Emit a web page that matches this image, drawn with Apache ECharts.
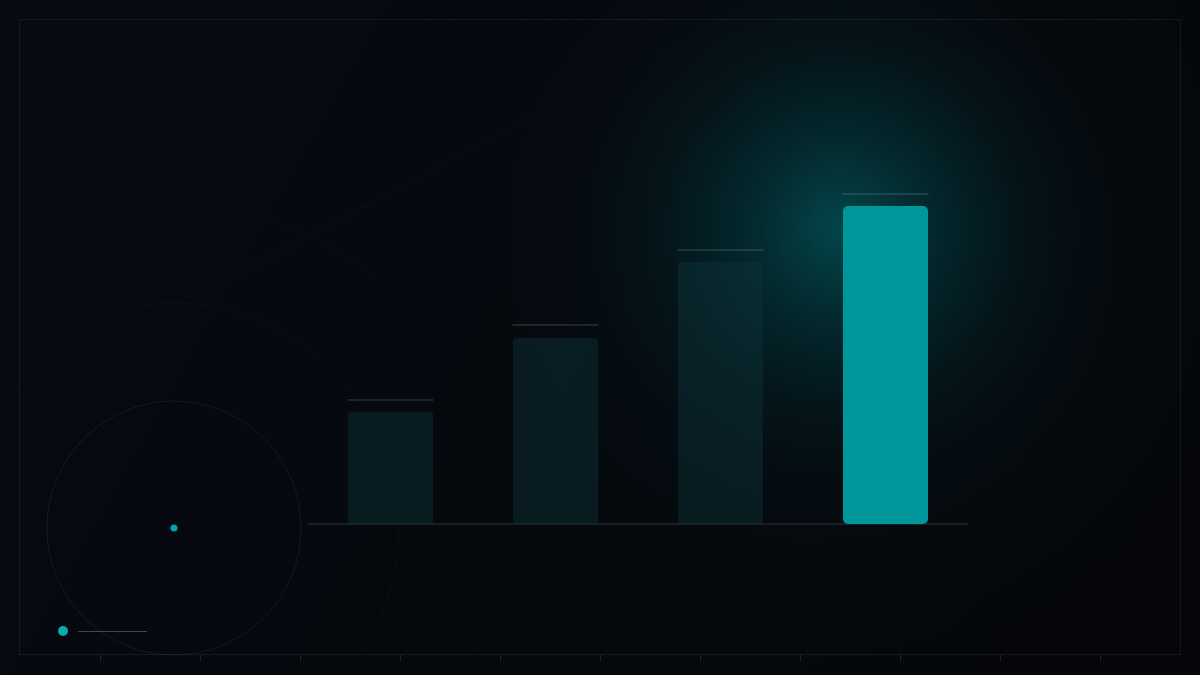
<!DOCTYPE html>
<html>
<head>
<meta charset="utf-8">
<script src="https://cdn.jsdelivr.net/npm/echarts@6/dist/echarts.min.js"></script>
<style>
html,body{margin:0;padding:0;background:#05070b;}
#chart{width:1200px;height:675px;}
</style>
</head>
<body>
<div id="chart"></div>
<script>
var categories = ['A', 'B', 'C', 'D'];
var values = [35.2, 58.5, 82.4, 100];
var caps = [39, 62.6, 86.2, 103.8];
var highlightIndex = 3;

var chart = echarts.init(document.getElementById('chart'));

var graphics = [];
graphics.push({
  type: 'rect', z: -10, silent: true,
  shape: {x: 0, y: 0, width: 1200, height: 675},
  style: {fill: new echarts.graphic.LinearGradient(0, 0, 1, 1, [
    {offset: 0, color: '#070b12'},
    {offset: 0.5, color: '#05080d'},
    {offset: 1, color: '#04060a'}
  ])}
});
graphics.push({
  type: 'rect', z: -9, silent: true,
  shape: {x: 0, y: 0, width: 1200, height: 675},
  style: {fill: new echarts.graphic.RadialGradient(0.7, 0.38, 0.6, [
    {offset: 0, color: 'rgba(0,90,95,0.2)'},
    {offset: 1, color: 'rgba(0,40,45,0)'}
  ])}
});
graphics.push({
  type: 'circle', z: -8, silent: true,
  shape: {cx: 840, cy: 225, r: 260},
  style: {fill: new echarts.graphic.RadialGradient(0.5, 0.5, 0.5, [
    {offset: 0, color: 'rgba(0,135,140,0.42)'},
    {offset: 0.35, color: 'rgba(0,110,115,0.24)'},
    {offset: 0.7, color: 'rgba(0,90,95,0.08)'},
    {offset: 1, color: 'rgba(0,80,85,0)'}
  ])}
});
for (var gx = 40; gx < 1200; gx += 41) {
  graphics.push({type: 'line', z: -7, silent: true, shape: {x1: gx, y1: 19, x2: gx, y2: 655},
    style: {stroke: 'rgba(255,255,255,0.012)', lineWidth: 1}});
}
for (var gy = 45; gy < 655; gy += 44) {
  graphics.push({type: 'line', z: -7, silent: true, shape: {x1: 19, y1: gy, x2: 1181, y2: gy},
    style: {stroke: 'rgba(255,255,255,0.012)', lineWidth: 1}});
}
graphics.push({type: 'line', z: -6, silent: true, shape: {x1: 0, y1: 395, x2: 760, y2: 0},
  style: {stroke: 'rgba(255,255,255,0.025)', lineWidth: 1}});
graphics.push({type: 'line', z: -6, silent: true, shape: {x1: 140, y1: 330, x2: 560, y2: 100},
  style: {stroke: 'rgba(255,255,255,0.02)', lineWidth: 1}});
graphics.push({type: 'rect', z: -5, silent: true, shape: {x: 19.5, y: 19.5, width: 1161, height: 635},
  style: {fill: 'none', stroke: 'rgba(255,255,255,0.065)', lineWidth: 1}});
for (var tx = 100; tx <= 1100; tx += 100) {
  graphics.push({type: 'line', z: -5, silent: true, shape: {x1: tx + 0.5, y1: 655, x2: tx + 0.5, y2: 661},
    style: {stroke: 'rgba(255,255,255,0.12)', lineWidth: 1}});
}
graphics.push({type: 'circle', z: -4, silent: true, shape: {cx: 174, cy: 528, r: 127},
  style: {fill: 'none', stroke: 'rgba(0,150,150,0.16)', lineWidth: 1}});
graphics.push({type: 'circle', z: -4, silent: true, shape: {cx: 174, cy: 528, r: 225},
  style: {fill: 'none', stroke: 'rgba(255,255,255,0.022)', lineWidth: 1}});
graphics.push({type: 'circle', z: -4, silent: true, shape: {cx: 174, cy: 528, r: 322},
  style: {fill: 'none', stroke: 'rgba(255,255,255,0.018)', lineWidth: 1}});
graphics.push({type: 'circle', z: 5, silent: true, shape: {cx: 174, cy: 528, r: 3.5},
  style: {fill: '#0aa3a6'}});
graphics.push({type: 'circle', z: 5, silent: true, shape: {cx: 63, cy: 631, r: 5},
  style: {fill: '#0aa9ac'}});
graphics.push({type: 'line', z: 5, silent: true, shape: {x1: 78, y1: 631.5, x2: 147, y2: 631.5},
  style: {stroke: 'rgba(255,255,255,0.25)', lineWidth: 1}});

var barData = values.map(function (v, i) {
  if (i === highlightIndex) {
    return {value: v, itemStyle: {color: '#00979a', borderRadius: 5}};
  }
  return {value: v, itemStyle: {color: 'rgba(14,52,57,0.45)', borderRadius: 3}};
});

chart.setOption({
  backgroundColor: '#05070b',
  animation: false,
  graphic: graphics,
  grid: {left: 308, right: 232, top: 142.4, bottom: 151},
  xAxis: {
    type: 'category', data: categories,
    axisLine: {show: true, lineStyle: {color: '#23272d', width: 1.5}},
    axisTick: {show: false}, axisLabel: {show: false}, splitLine: {show: false}
  },
  yAxis: {
    type: 'value', min: 0, max: 120,
    axisLine: {show: false}, axisTick: {show: false}, axisLabel: {show: false}, splitLine: {show: false}
  },
  series: [
    {type: 'bar', data: barData, barWidth: 85, z: 2},
    {
      type: 'scatter', data: caps, symbol: 'rect', symbolSize: [86, 1], z: 3,
      itemStyle: {color: 'rgba(170,180,190,0.4)'}, silent: true
    }
  ]
});
</script>
</body>
</html>
